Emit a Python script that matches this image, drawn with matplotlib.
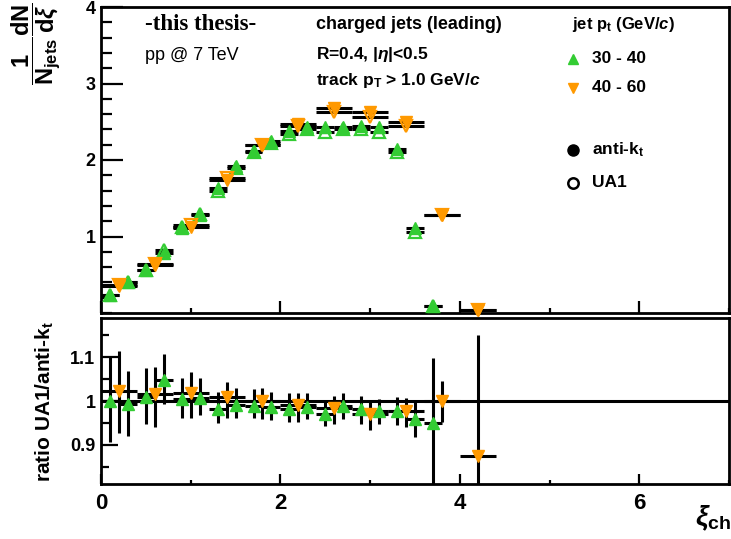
import numpy as np
import matplotlib
matplotlib.use('Agg')
import matplotlib.pyplot as plt
from matplotlib.ticker import MultipleLocator

# fonts: bold Helvetica-like everywhere, like the ROOT plot
plt.rcParams['font.family'] = ['Liberation Sans', 'DejaVu Sans']
plt.rcParams['font.weight'] = 'bold'
plt.rcParams['mathtext.fontset'] = 'custom'
plt.rcParams['mathtext.rm'] = 'Liberation Sans:bold'
plt.rcParams['mathtext.bf'] = 'Liberation Sans:bold'
plt.rcParams['mathtext.it'] = 'Liberation Sans:italic:bold'

GREEN = '#33cc33'
ORANGE = '#ff9900'

W, H = 731, 539

# jet pt 30-40 GeV/c (xi bins of width 0.2)
xi_3040 = [0.1, 0.3, 0.5, 0.7, 0.9, 1.1, 1.3, 1.5, 1.7, 1.9,
           2.1, 2.3, 2.5, 2.7, 2.9, 3.1, 3.3, 3.5, 3.7]
akt_3040 = [0.24, 0.41, 0.56, 0.79, 1.11, 1.28, 1.63, 1.92, 2.12, 2.25,
            2.38, 2.43, 2.43, 2.43, 2.44, 2.43, 2.15, 1.11, 0.09]
ua1_3040 = [0.24, 0.41, 0.56, 0.83, 1.12, 1.29, 1.60, 1.90, 2.10, 2.22,
            2.34, 2.40, 2.36, 2.40, 2.40, 2.37, 2.10, 1.06, 0.085]
ratio_3040 = [1.000, 0.993, 1.009, 1.048, 1.005, 1.007, 0.982, 0.991, 0.989, 0.986,
              0.981, 0.987, 0.971, 0.988, 0.982, 0.976, 0.976, 0.959, 0.950]
ratio_3040_hi = [1.100, 1.069, 1.075, 1.107, 1.052, 1.052, 1.021, 1.030, 1.027, 1.021,
                 1.019, 1.019, 1.000, 1.018, 1.012, 1.004, 1.009, 1.003, 1.098]
ratio_3040_lo = [0.907, 0.921, 0.947, 0.992, 0.960, 0.967, 0.949, 0.962, 0.962, 0.957,
                 0.953, 0.959, 0.943, 0.958, 0.947, 0.947, 0.945, 0.918, 0.700]

# jet pt 40-60 GeV/c (xi bins of width 0.4)
xi_4060 = [0.2, 0.6, 1.0, 1.4, 1.8, 2.2, 2.6, 3.0, 3.4, 3.8, 4.2]
akt_4060 = [0.35, 0.63, 1.13, 1.74, 2.19, 2.47, 2.68, 2.63, 2.50, 1.28, 0.04]
ua1_4060 = [0.36, 0.64, 1.15, 1.76, 2.19, 2.45, 2.63, 2.56, 2.45, 1.28, 0.035]
ratio_4060 = [1.024, 1.015, 1.019, 1.009, 1.000, 0.990, 0.985, 0.971, 0.977, 1.001, 0.874]
ratio_4060_hi = [1.115, 1.077, 1.066, 1.044, 1.030, 1.019, 1.011, 1.003, 1.007, 1.045, 1.152]
ratio_4060_lo = [0.926, 0.940, 0.962, 0.962, 0.958, 0.952, 0.947, 0.934, 0.941, 0.951, 0.700]

halfbin_3040 = 0.1
halfbin_4060 = 0.2


def fpos(px, py):
    # pixel position -> figure fraction
    return px / W, 1 - py / H


def style_axis(ax):
    for sp in ax.spines.values():
        sp.set_linewidth(2.0)
    ax.tick_params(which='both', direction='in', width=1.6, top=False, right=False)
    ax.set_xlim(0, 7)
    ax.xaxis.set_major_locator(MultipleLocator(2))
    ax.xaxis.set_minor_locator(MultipleLocator(1))


fig = plt.figure(figsize=(W / 100, H / 100), dpi=100)

# upper panel
ax1 = fig.add_axes([101 / W, 1 - 313 / H, 628 / W, 306 / H])
style_axis(ax1)
ax1.set_ylim(0, 4.0)
ax1.set_yticks([1, 2, 3, 4])
ax1.yaxis.set_minor_locator(MultipleLocator(0.2))
ax1.tick_params(axis='y', which='major', length=16, labelsize=13, pad=4)
ax1.tick_params(axis='y', which='minor', length=8)
ax1.tick_params(axis='x', which='major', length=8.5, labelbottom=False)
ax1.tick_params(axis='x', which='minor', length=3.6)

for xs, ys, hb in [(xi_3040, akt_3040, halfbin_3040), (xi_3040, ua1_3040, halfbin_3040),
                   (xi_4060, akt_4060, halfbin_4060), (xi_4060, ua1_4060, halfbin_4060)]:
    ax1.errorbar(xs, ys, xerr=hb, fmt='none', ecolor='k', elinewidth=2.2, capsize=0, zorder=2)

ax1.plot(xi_3040, akt_3040, ls='none', marker='^', ms=9, color=GREEN, mec=GREEN, zorder=4, clip_on=False)
ax1.plot(xi_3040, ua1_3040, ls='none', marker='^', ms=9, mfc='none', mec=GREEN, mew=1.6, zorder=4, clip_on=False)
ax1.plot(xi_4060, akt_4060, ls='none', marker='v', ms=9, color=ORANGE, mec=ORANGE, zorder=4, clip_on=False)
ax1.plot(xi_4060, ua1_4060, ls='none', marker='v', ms=9, mfc='none', mec=ORANGE, mew=1.6, zorder=4, clip_on=False)

# lower panel: ratio
ax2 = fig.add_axes([101 / W, 1 - 484 / H, 628 / W, 166 / H])
style_axis(ax2)
ax2.set_ylim(0.81, 1.19)
ax2.set_yticks([0.9, 1.0, 1.1], labels=['0.9', '1', '1.1'])
ax2.yaxis.set_minor_locator(MultipleLocator(0.05))
ax2.tick_params(axis='y', which='major', length=12, labelsize=13, pad=4)
ax2.tick_params(axis='y', which='minor', length=6)
ax2.tick_params(axis='x', which='major', length=7, labelsize=16, pad=6.5)
ax2.tick_params(axis='x', which='minor', length=3)

ax2.axhline(1.0, color='k', lw=2.2, zorder=1)
for xs, r, lo, hi, hb in [(xi_3040, ratio_3040, ratio_3040_lo, ratio_3040_hi, halfbin_3040),
                          (xi_4060, ratio_4060, ratio_4060_lo, ratio_4060_hi, halfbin_4060)]:
    r = np.array(r)
    yerr = [r - np.array(lo), np.array(hi) - r]
    ax2.errorbar(xs, r, xerr=hb, yerr=yerr, fmt='none', ecolor='k', elinewidth=2.2, capsize=0, zorder=2)
ax2.plot(xi_3040, ratio_3040, ls='none', marker='^', ms=8, color=GREEN, mec=GREEN, zorder=4)
ax2.plot(xi_4060, ratio_4060, ls='none', marker='v', ms=8, color=ORANGE, mec=ORANGE, zorder=4)

# axis titles
fig.text(*fpos(36, 2), r'$\dfrac{\mathrm{1}}{\mathrm{N_{jets}}}\dfrac{\mathrm{dN}}{\mathrm{d}\xi}$',
         rotation=90, ha='center', va='top', fontsize=17)
fig.text(*fpos(45, 401), r'ratio UA1/anti-k$_{\mathrm{t}}$', rotation=90,
         ha='center', va='center', fontsize=15)
fig.text(*fpos(713, 518), r'$\xi_{\mathrm{ch}}$', ha='center', va='center', fontsize=20)

# labels inside the upper panel
fig.text(*fpos(145, 30), '-this thesis-', family='Liberation Serif', weight='bold',
         fontsize=16.5, va='baseline')
fig.text(*fpos(145, 60), 'pp @ 7 TeV', weight='normal', fontsize=13, va='baseline')
fig.text(*fpos(316, 29), 'charged jets (leading)', fontsize=13, va='baseline')
fig.text(*fpos(316, 59), r'R=0.4, |$\eta$|<0.5', fontsize=12.5, va='baseline')
fig.text(*fpos(316, 85), r'track p$_{\mathrm{T}}$ > 1.0 GeV/$\mathit{c}$', fontsize=12.5, va='baseline')

# legend
fig.text(*fpos(572, 29), r'jet p$_{\mathrm{t}}$ (GeV/$\mathit{c}$)', fontsize=12, va='baseline')
leg_items = [
    (59, '30 - 40', dict(marker='^', color=GREEN, mec=GREEN, ms=7.5)),
    (88, '40 - 60', dict(marker='v', color=ORANGE, mec=ORANGE, ms=7.5)),
    (150, r'anti-k$_{\mathrm{t}}$', dict(marker='o', color='k', ms=8)),
    (183, 'UA1', dict(marker='o', mfc='none', mec='k', mew=1.8, ms=7.5)),
]
for py, label, mk in leg_items:
    fx, fy = fpos(573, py)
    ax1.plot([fx], [fy], ls='none', transform=fig.transFigure, clip_on=False, zorder=5, **mk)
    fig.text(*fpos(592, py + 4), label, fontsize=12.5, va='baseline')

fig.savefig('out.png', dpi=100)
